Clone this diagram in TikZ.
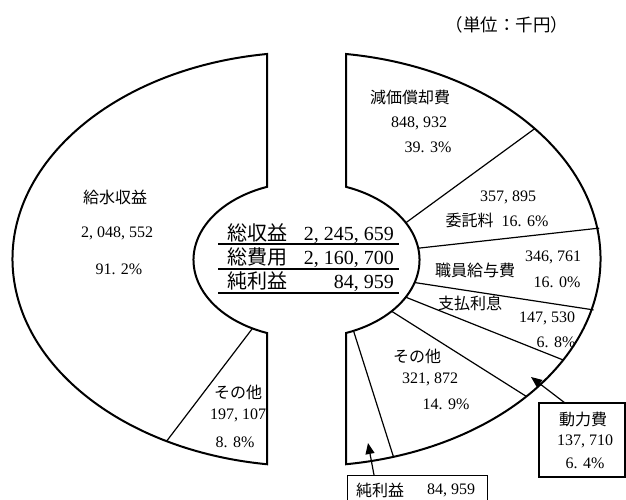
\documentclass[tikz,border=0pt]{standalone}
\usepackage{fontspec}
\setmainfont{Liberation Serif}
\newfontfamily\jp{Noto Sans CJK JP}
\usetikzlibrary{arrows.meta}
\begin{document}
\begin{tikzpicture}[x=1pt,y=1pt,
  outline/.style={line width=2pt, line join=miter},
  divline/.style={line width=1.2pt},
  small/.style={inner sep=0pt, align=center, font=\fontsize{16}{18}\selectfont},
  big/.style={inner sep=0pt, font=\fontsize{20}{24}\selectfont},
  ptr/.style={line width=1.2pt, -{Triangle[length=11pt,width=9pt]}},
  thickbox/.style={draw, line width=2.5pt},
  thinbox/.style={draw, line width=1pt},
]
\useasboundingbox (0,0) rectangle (626,499);
\clip (0,0) rectangle (626,499);

% left half (revenue)
\draw[outline] (267,445) arc[start angle=97.72, end angle=262.28, x radius=294, y radius=207]
  -- (267,166) arc[start angle=249.54, end angle=110.46, x radius=113, y radius=78] -- cycle;
% right half (expenses)
\draw[outline] (346,445) arc[start angle=82.28, end angle=-82.28, x radius=294, y radius=207]
  -- (346,166) arc[start angle=-69.54, end angle=69.54, x radius=113, y radius=78] -- cycle;

% division points
\path (306.5,240) ++(39.05:294 and 207) coordinate (o1);
\path (306.5,239) ++(28.5:113 and 78) coordinate (i1);
\path (306.5,240) ++(8.5:296 and 209) coordinate (o2);
\path (306.5,239) ++(8.7:113 and 78) coordinate (i2);
\path (306.5,240) ++(-14.1:296 and 209) coordinate (o3);
\path (306.5,239) ++(-16.8:113 and 78) coordinate (i3);
\path (306.5,240) ++(-29.2:294 and 207) coordinate (o4);
\path (306.5,239) ++(-28.5:113 and 78) coordinate (i4);
\path (306.5,240) ++(-41.6:294 and 207) coordinate (o5);
\path (306.5,239) ++(-41.1:113 and 78) coordinate (i5);
\path (306.5,240) ++(-72.8:294 and 207) coordinate (o6);
\path (306.5,239) ++(-65.4:113 and 78) coordinate (i6);
\path (306.5,240) ++(-118.4:294 and 207) coordinate (o7);
\path (306.5,239) ++(-118.6:113 and 78) coordinate (i7);

\draw[divline] (i1) -- (o1);
\draw[divline] (i2) -- (o2);
\draw[divline] (i3) -- (o3);
\draw[divline] (i4) -- (o4);
\draw[divline] (i5) -- (o5);
\draw[divline] (i6) -- (o6);
\draw[divline] (i7) -- (o7);

% unit
\node[inner sep=0pt, font=\fontsize{17.5}{20}\selectfont] (unit) at (507,474) {\jp （単位：千円）};

% left labels
\node[small] (kyu1) at (115,302) {\jp 給水収益};
\node[small] (kyu2) at (117,266) {2, 048, 552};
\node[small] (kyu3) at (119,230) {91. 2\%};
\node[small] (lso1) at (238,107) {\jp その他};
\node[small] (lso2) at (238,84) {197, 107};
\node[small] (lso3) at (235,57) {8. 8\%};

% right labels
\node[small] (gen1) at (410,402) {\jp 減価償却費};
\node[small] (gen2) at (419,376) {848, 932};
\node[small] (gen3) at (428,352) {39. 3\%};
\node[small] (itaku1) at (508,302) {357, 895};
\node[small] (itaku2) at (497,279) {{\jp 委託料}\ \ 16. 6\%};
\node[small] (shoku1) at (475,229) {\jp 職員給与費};
\node[small] (shoku2) at (553,242) {346, 761};
\node[small] (shoku3) at (557,217) {16. 0\%};
\node[small] (shi1) at (470,196) {\jp 支払利息};
\node[small] (shi2) at (547,181) {147, 530};
\node[small] (shi3) at (556,157) {6. 8\%};
\node[small] (rso1) at (417,143) {\jp その他};
\node[small] (rso2) at (430,120) {321, 872};
\node[small] (rso3) at (446,95) {14. 9\%};

% center table
\node[big, anchor=base west] (t1l) at (227,259) {\jp 総収益};
\node[big, anchor=base east] (t1n) at (394,259) {2, 245, 659};
\node[big, anchor=base west] (t2l) at (227,235) {\jp 総費用};
\node[big, anchor=base east] (t2n) at (394,235) {2, 160, 700};
\node[big, anchor=base west] (t3l) at (227,211) {\jp 純利益};
\node[big, anchor=base east] (t3n) at (394,211) {84, 959};
\draw[divline] (218,255) -- (399,255);
\draw[divline] (218,230) -- (399,230);
\draw[divline] (218,206) -- (399,206);

% power cost box
\draw[thickbox] (539,22) rectangle (625,96);
\node[small] (dou1) at (583,80) {\jp 動力費};
\node[small] (dou2) at (585,58) {137, 710};
\node[small] (dou3) at (585,36) {6. 4\%};
\coordinate (dstart) at (565,96);
\coordinate (dtip) at (531,122);
\draw[ptr] (dstart) -- (dtip);

% net profit box
\draw[thinbox] (347,24) rectangle (487,-15);
\node[small] (jun1) at (380,9) {\jp 純利益};
\node[small] (jun2) at (451,9) {84, 959};
\coordinate (jstart) at (374,24);
\coordinate (jtip) at (368,56);
\draw[ptr] (jstart) -- (jtip);
\end{tikzpicture}
\end{document}
